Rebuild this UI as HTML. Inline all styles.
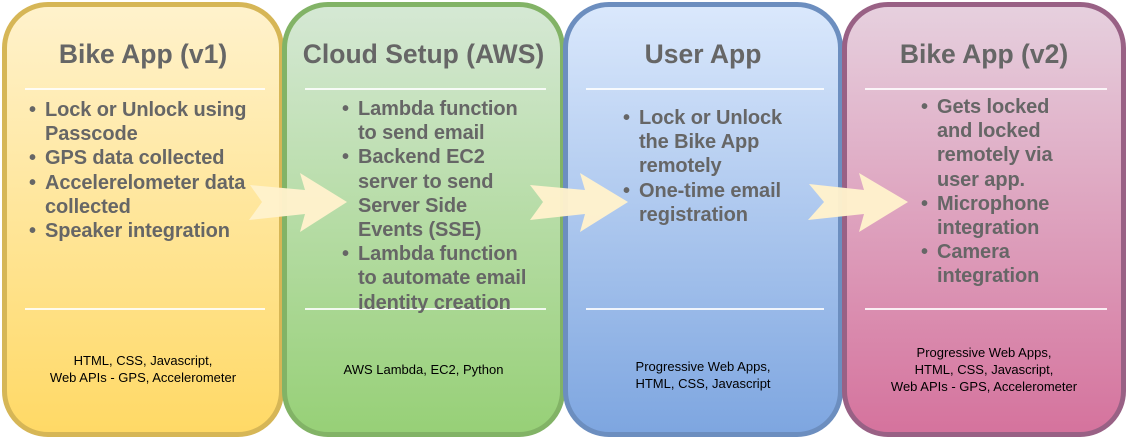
<!DOCTYPE html>
<html><head><meta charset="utf-8"><style>
body{margin:0;width:1128px;height:438px;background:#fff;position:relative;overflow:hidden;font-family:"Liberation Sans",Arial,sans-serif}
.box{position:absolute;top:2px;height:425px;border:5px solid;border-radius:46px;box-sizing:content-box}
.t{position:absolute;left:0;right:0;text-align:center;font-weight:bold;font-size:26.5px;color:#666;top:32px;white-space:nowrap;z-index:2}
.sep{position:absolute;left:18px;right:14px;height:2px;background:#fff;opacity:.85}
.b{position:absolute;font-weight:bold;font-size:20px;line-height:24.2px;color:#666;white-space:nowrap;letter-spacing:-0.1px;z-index:2}
.b div{position:relative;padding-left:16px}
.b div:before{content:"•";position:absolute;left:0}
.f{position:absolute;left:0;right:0;text-align:center;font-size:13px;line-height:17px;color:#000;z-index:2}
</style></head><body>
<div class="box" style="left:2px;width:272px;border-color:#d6b656;background:linear-gradient(#fff2cc,#ffd966)">
 <div class="t">Bike App (v1)</div>
 <div class="sep" style="top:81px"></div><div class="sep" style="top:301px"></div>
 <div class="b" style="left:22px;top:91px"><div>Lock or Unlock using<br>Passcode</div><div>GPS data collected</div><div>Accelerelometer data<br>collected</div><div>Speaker integration</div></div>
 <div class="f" style="top:345px">HTML, CSS, Javascript,<br>Web APIs - GPS, Accelerometer</div>
</div>
<div class="box" style="left:282px;width:273px;border-color:#82b366;background:linear-gradient(#d5e8d4,#97d077)">
 <div class="t">Cloud Setup (AWS)</div>
 <div class="sep" style="top:81px"></div><div class="sep" style="top:301px"></div>
 <div class="b" style="left:55px;top:90px"><div>Lambda function<br>to send email</div><div>Backend EC2<br>server to send<br>Server Side<br>Events (SSE)</div><div>Lambda function<br>to automate email<br>identity creation</div></div>
 <div class="f" style="top:354px">AWS Lambda, EC2, Python</div>
</div>
<div class="box" style="left:563px;width:270px;border-color:#6c8ebf;background:linear-gradient(#dae8fc,#7ea6e0)">
 <div class="t">User App</div>
 <div class="sep" style="top:81px"></div><div class="sep" style="top:301px"></div>
 <div class="b" style="left:55px;top:99px"><div>Lock or Unlock<br>the Bike App<br>remotely</div><div>One-time email<br>registration</div></div>
 <div class="f" style="top:351px">Progressive Web Apps,<br>HTML, CSS, Javascript</div>
</div>
<div class="box" style="left:842px;width:274px;border-color:#996185;background:linear-gradient(#e6d0de,#d5739d)">
 <div class="t">Bike App (v2)</div>
 <div class="sep" style="top:81px"></div><div class="sep" style="top:301px"></div>
 <div class="b" style="left:74px;top:88px"><div>Gets locked<br>and locked<br>remotely via<br>user app.</div><div>Microphone<br>integration</div><div>Camera<br>integration</div></div>
 <div class="f" style="top:337px">Progressive Web Apps,<br>HTML, CSS, Javascript,<br>Web APIs - GPS, Accelerometer</div>
</div>
<svg width="1128" height="438" style="position:absolute;left:0;top:0;z-index:1">
 <g fill="#fff2cc" fill-opacity="0.97">
  <polygon points="250,185 305,190 300,173 347,202 300,232 305,214 249,220 262,202"/>
  <polygon points="530,185 585,190 580,173 628,202 580,232 585,214 530,220 543,202"/>
  <polygon points="809,184 864,190 859,173 908,202 859,232 864,214 808,220 824,202"/>
 </g>
</svg>
</body></html>
